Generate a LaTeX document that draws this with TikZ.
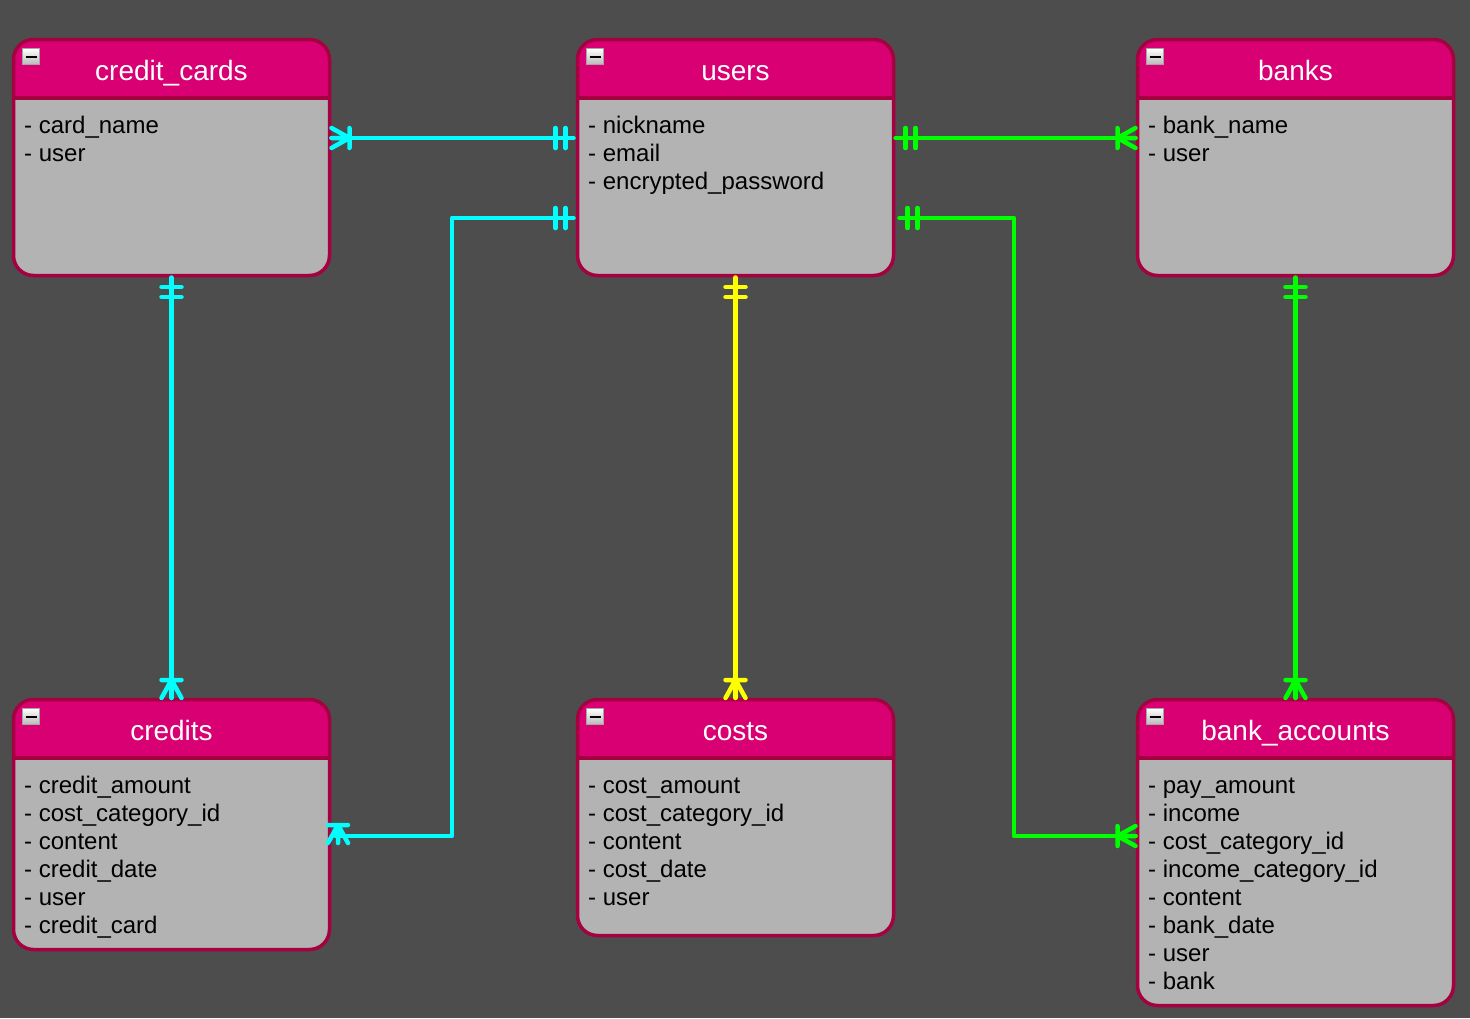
\documentclass[tikz,border=0pt]{standalone}
\usepackage{fontspec}
\setmainfont{Liberation Sans}
\usetikzlibrary{calc}

\definecolor{bgc}{HTML}{4D4D4D}
\definecolor{hdr}{HTML}{D80073}
\definecolor{edge}{HTML}{A50040}
\definecolor{bodyc}{HTML}{B3B3B3}
\definecolor{relcyan}{HTML}{00FFFF}
\definecolor{relyellow}{HTML}{FFFF00}
\definecolor{relgreen}{HTML}{00FF00}

\tikzset{
  tbl/.style={draw=edge, line width=3.5pt, fill=bodyc, rounded corners=20pt,
    minimum width=316pt, inner sep=0pt, outer sep=0pt,
    path picture={
      \fill[hdr, sharp corners] (path picture bounding box.north west) rectangle
        ($(path picture bounding box.north east)+(0,-58pt)$);
      \draw[edge, line width=4pt, sharp corners]
        ($(path picture bounding box.north west)+(0,-58pt)$) --
        ($(path picture bounding box.north east)+(0,-58pt)$);}},
  ttl/.style={text=white, font=\fontsize{28pt}{32pt}\selectfont, inner sep=0pt, anchor=base},
  row/.style={text=black, font=\fontsize{24pt}{28pt}\selectfont, inner sep=0pt, anchor=base west},
  minusbox/.style={draw=gray!70, line width=0.8pt, top color=white, bottom color=gray!55,
    minimum width=17pt, minimum height=16pt, inner sep=0pt, sharp corners,
    path picture={\draw[black, line width=2pt]
      ($(path picture bounding box.west)+(3pt,0)$) --
      ($(path picture bounding box.east)+(-3pt,0)$);}},
  rel/.style={line width=4.5pt, line cap=round, line join=round},
  pics/erone/.style={code={\draw (10,-10) -- (10,10) (20,-10) -- (20,10);}},
  pics/ermany/.style={code={\draw (0,-10) -- (18,0) -- (0,10) (0,0) -- (18,0) (18,-10) -- (18,10);}},
}

% #1 name, #2 centre x, #3 top y, #4 height, #5 title, #6 attribute rows
\newcommand\ertable[6]{%
  \node[tbl, minimum height=#4pt, anchor=north] (#1) at (#2,#3) {};
  \node[minusbox] (#1-icon) at (#2-140.5,#3+17) {};
  \node[ttl] (#1-title) at (#2,#3+40.5) {#5};
  \foreach \r [count=\i] in {#6}
    \node[row] (#1-r\i) at (#2-147.5,#3+66+28*\i) {\r};
}

\begin{document}
\begin{tikzpicture}[x=1pt,y=-1pt]
  \fill[bgc] (0,0) rectangle (1470,1018);
  \useasboundingbox (0,0) rectangle (1470,1018);

  % tables
  \ertable{cc}{171.5}{39.5}{236}{credit\_cards}{- card\_name,- user}
  \ertable{users}{735.5}{39.5}{236}{users}{- nickname,- email,- encrypted\_password}
  \ertable{banks}{1295.5}{39.5}{236}{banks}{- bank\_name,- user}
  \ertable{credits}{171.5}{699.5}{250}{credits}{- credit\_amount,- cost\_category\_id,- content,- credit\_date,- user,- credit\_card}
  \ertable{costs}{735.5}{699.5}{236}{costs}{- cost\_amount,- cost\_category\_id,- content,- cost\_date,- user}
  \ertable{bacc}{1295.5}{699.5}{306}{bank\_accounts}{- pay\_amount,- income,- cost\_category\_id,- income\_category\_id,- content,- bank\_date,- user,- bank}

  % credit_cards -- users
  \draw[rel, relcyan] ($(cc.north east)+(2,98.5)$) -- ($(users.north west)+(-4,98.5)$);
  \pic[rel, relcyan] at ($(cc.north east)+(2,98.5)$) {ermany};
  \pic[rel, relcyan, rotate=180] at ($(users.north west)+(-2,98.5)$) {erone};

  % users -- credits
  \coordinate (uc1) at ($(users.north west)+(-125.5,178.5)$);
  \coordinate (uc2) at ($(credits.north east)+(122.5,136.5)$);
  \draw[rel, relcyan] ($(users.north west)+(-4,178.5)$) -- (uc1) -- (uc2) -- ($(credits.north east)+(6,136.5)$);
  \pic[rel, relcyan, rotate=180] at ($(users.north west)+(-2,178.5)$) {erone};
  \pic[rel, relcyan, rotate=90] at ($(credits.north east)+(8.5,143.5)$) {ermany};

  % credit_cards -- credits
  \draw[rel, relcyan] ($(cc.south)+(0,2)$) -- ($(credits.north)+(0,-2)$);
  \pic[rel, relcyan, rotate=-90] at ($(cc.south)+(0,1.5)$) {erone};
  \pic[rel, relcyan, rotate=90] at ($(credits.north)+(0,-1.5)$) {ermany};

  % users -- costs
  \draw[rel, relyellow] ($(users.south)+(0,2)$) -- ($(costs.north)+(0,-2)$);
  \pic[rel, relyellow, rotate=-90] at ($(users.south)+(0,1.5)$) {erone};
  \pic[rel, relyellow, rotate=90] at ($(costs.north)+(0,-1.5)$) {ermany};

  % users -- banks
  \draw[rel, relgreen] ($(users.north east)+(2,98.5)$) -- ($(banks.north west)+(-2,98.5)$);
  \pic[rel, relgreen] at ($(users.north east)+(2,98.5)$) {erone};
  \pic[rel, relgreen, rotate=180] at ($(banks.north west)+(-2,98.5)$) {ermany};

  % users -- bank_accounts
  \coordinate (ub1) at ($(users.north east)+(120.5,178.5)$);
  \coordinate (ub2) at ($(bacc.north west)+(-123.5,136.5)$);
  \draw[rel, relgreen] ($(users.north east)+(6,178.5)$) -- (ub1) -- (ub2) -- ($(bacc.north west)+(-2,136.5)$);
  \pic[rel, relgreen] at ($(users.north east)+(4,178.5)$) {erone};
  \pic[rel, relgreen, rotate=180] at ($(bacc.north west)+(-2,136.5)$) {ermany};

  % banks -- bank_accounts
  \draw[rel, relgreen] ($(banks.south)+(0,2)$) -- ($(bacc.north)+(0,-2)$);
  \pic[rel, relgreen, rotate=-90] at ($(banks.south)+(0,1.5)$) {erone};
  \pic[rel, relgreen, rotate=90] at ($(bacc.north)+(0,-1.5)$) {ermany};
\end{tikzpicture}
\end{document}
